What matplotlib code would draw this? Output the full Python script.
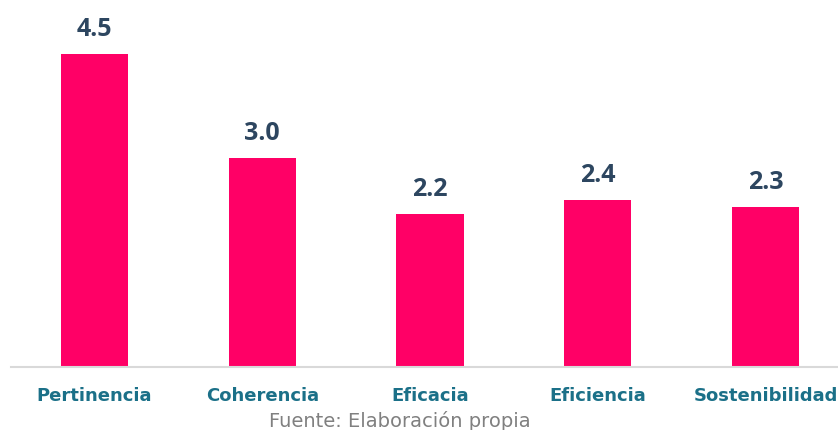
import matplotlib
matplotlib.use("Agg")
import matplotlib.pyplot as plt

categories = ["Pertinencia", "Coherencia", "Eficacia", "Eficiencia", "Sostenibilidad"]
values = [4.5, 3.0, 2.2, 2.4, 2.3]
value_labels = ["4.5", "3.0", "2.2", "2.4", "2.3"]
source_note = "Fuente: Elaboración propia"

W, H = 838, 431
fig = plt.figure(figsize=(W / 100, H / 100), dpi=100)

# axes geometry in pixels
left_px = 10.6
base_px = 368
step_px = 167.75
ax = fig.add_axes([left_px / W, (H - base_px) / H, (W - left_px) / W, base_px / H])
ax.set_xlim(-0.5, (W - left_px) / step_px - 0.5)
ax.set_ylim(0, base_px / 69.6)

x = range(len(categories))
ax.bar(x, values, width=0.4, color="#FF0066", zorder=2)

for xi, v, lab in zip(x, values, value_labels):
    ax.annotate(lab, (xi, v), xytext=(0, 19), textcoords="offset pixels",
                ha="center", va="baseline", fontsize=18, fontweight="bold",
                family="Open Sans", color="#2D4660")

for s in ["top", "right", "left"]:
    ax.spines[s].set_visible(False)
ax.spines["bottom"].set_color("#D9D9D9")
ax.spines["bottom"].set_linewidth(1.5)
ax.set_yticks([])
ax.set_xticks(list(x))
ax.set_xticklabels(categories, fontsize=13, fontweight="bold",
                   family="DejaVu Sans", color="#1B7088")
ax.tick_params(axis="x", length=0, pad=14)

fig.text(400 / W, 1 - 427 / H, source_note, ha="center", va="baseline",
         fontsize=14, color="#808080", family="DejaVu Sans")

fig.savefig("out.png", dpi=100)
